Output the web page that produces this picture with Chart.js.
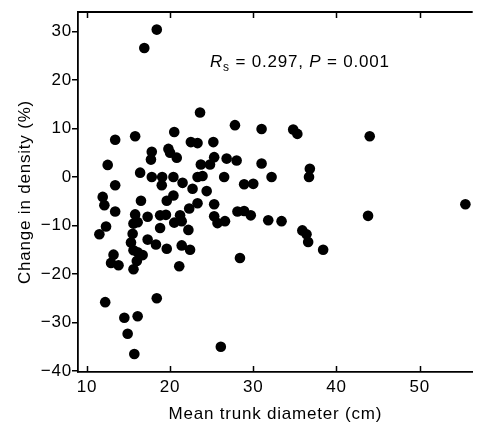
<!DOCTYPE html>
<html>
<head>
<meta charset="utf-8">
<script src="https://cdn.jsdelivr.net/npm/chart.js@4.4.1/dist/chart.umd.min.js"></script>
<style>
  html, body { margin: 0; padding: 0; background: #fff; overflow: hidden; }
  #wrap { width: 478px; height: 426px; position: relative; }
</style>
</head>
<body>
<div id="wrap"><canvas id="c" width="478" height="426"></canvas></div>
<script>
// Mean trunk diameter (cm)
const trunkDiameter = [
  18.4, 16.9, 23.6, 27.8, 31.0, 34.8, 35.3, 44.0, 13.4, 15.8,
  20.5, 22.5, 23.3, 25.2, 17.8, 17.7, 19.8, 20.0, 20.8, 23.7,
  24.8, 25.3, 26.8, 28.0, 31.0, 36.8, 36.7, 32.2, 26.5, 23.3,
  23.9, 12.5, 13.4, 16.4, 17.8, 19.05, 20.4, 19.0, 21.5, 22.7,
  24.4, 28.9, 30.0, 11.9, 12.1, 13.4, 16.5, 15.8, 17.3, 15.6,
  16.1, 15.5, 12.3, 11.5, 15.3, 15.6, 17.3, 18.3, 16.7, 16.1,
  13.2, 12.9, 13.8, 16.0, 15.6, 18.8, 18.8, 19.5, 19.6, 20.5,
  21.2, 21.4, 22.2, 21.4, 22.4, 21.1, 22.3, 23.3, 19.6, 20.4,
  25.3, 25.3, 25.7, 26.6, 28.1, 28.9, 29.7, 31.8, 33.4, 35.9,
  36.4, 36.6, 38.4, 28.4, 43.8, 55.5, 12.2, 18.4, 14.5, 16.1,
  14.9, 15.7, 26.1
];
// Change in density (%)
const densityChange = [
  30.4, 26.6, 13.3, 10.7, 9.9, 9.8, 8.9, 8.4, 7.7, 8.4,
  9.3, 7.2, 7.0, 7.2, 5.2, 3.6, 5.8, 5.0, 4.0, 2.6,
  2.6, 4.1, 3.8, 3.4, 2.8, 1.7, 0.0, 0.0, 0.0, 0.0,
  0.2, 2.5, -1.7, 0.9, 0.0, 0.0, 0.0, -1.7, -1.2, -2.4,
  -2.9, -1.5, -1.4, -4.1, -5.8, -7.1, -4.9, -7.7, -8.2, -9.6,
  -9.3, -11.7, -10.2, -11.8, -13.5, -15.1, -12.9, -13.9, -16.1, -15.5,
  -16.0, -17.7, -18.2, -17.3, -19.0, -10.5, -7.9, -7.8, -14.8, -9.4,
  -7.9, -9.1, -10.9, -14.1, -15.0, -18.4, -6.5, -5.4, -4.9, -3.8,
  -5.6, -8.1, -9.5, -9.1, -7.1, -7.0, -7.9, -8.9, -9.1, -11.0,
  -11.8, -13.4, -15.0, -16.7, -8.0, -5.6, -25.8, -25.0, -29.0, -28.7,
  -32.3, -36.5, -35.0
];
const xTickValues = [10, 20, 30, 40, 50];
const yTickValues = [-40, -30, -20, -10, 0, 10, 20, 30];
const xTitle = 'Mean trunk diameter (cm)';
const yTitle = 'Change in density (%)';

const points = trunkDiameter.map((x, i) => ({ x: x, y: densityChange[i] }));

const FONT = "'Liberation Sans', Arial, Helvetica, sans-serif";
const FS = 17;

const framePlugin = {
  id: 'frame',
  beforeDraw(chart) {
    try { chart.ctx.letterSpacing = '0.8px'; } catch (e) {}
  },
  afterDraw(chart) {
    const { ctx, chartArea: a, scales } = chart;
    const xs = scales.x;
    ctx.save();
    ctx.strokeStyle = '#000';
    ctx.lineWidth = 1.8;
    // top border
    ctx.beginPath();
    ctx.moveTo(a.left, a.top);
    ctx.lineTo(a.right, a.top);
    ctx.stroke();
    // inward ticks on bottom and top
    ctx.lineWidth = 1.5;
    xTickValues.forEach(v => {
      const px = Math.round(xs.getPixelForValue(v)) + 0.5;
      ctx.beginPath();
      ctx.moveTo(px, a.bottom);
      ctx.lineTo(px, a.bottom - 6);
      ctx.moveTo(px, a.top);
      ctx.lineTo(px, a.top + 6);
      ctx.stroke();
    });
    // annotation
    ctx.fillStyle = '#000';
    ctx.textBaseline = 'alphabetic';
    ctx.textAlign = 'left';
    let x = 210, y = 66.5;
    const parts = [
      { t: 'R', f: 'italic ' + FS + 'px ' + FONT, dy: 0 },
      { t: 's', f: '12px ' + FONT, dy: 4 },
      { t: ' = 0.297, ', f: FS + 'px ' + FONT, dy: 0 },
      { t: 'P', f: 'italic ' + FS + 'px ' + FONT, dy: 0 },
      { t: ' = 0.001', f: FS + 'px ' + FONT, dy: 0 }
    ];
    parts.forEach(p => {
      ctx.font = p.f;
      ctx.fillText(p.t, x, y + p.dy);
      x += ctx.measureText(p.t).width;
    });
    ctx.restore();
  }
};

new Chart(document.getElementById('c'), {
  type: 'scatter',
  data: {
    datasets: [{
      data: points,
      backgroundColor: '#000',
      borderColor: '#000',
      borderWidth: 0,
      pointRadius: 5.3,
      pointHoverRadius: 5.3
    }]
  },
  options: {
    responsive: false,
    animation: false,
    events: [],
    layout: { padding: { top: 12, right: 0, bottom: 0, left: 0 } },
    plugins: { legend: { display: false }, tooltip: { enabled: false } },
    scales: {
      x: {
        type: 'linear',
        min: 8.93,
        max: 56.38,
        afterFit(s) { s.height = 54; },
        afterBuildTicks(s) { s.ticks = xTickValues.map(v => ({ value: v })); },
        grid: { display: false, drawTicks: false, tickLength: 0 },
        border: { display: true, color: '#000', width: 1.8 },
        ticks: {
          color: '#000',
          padding: 5,
          maxRotation: 0,
          autoSkip: false,
          font: { family: FONT, size: FS },
          callback: v => String(v)
        },
        title: {
          display: true,
          text: xTitle,
          color: '#000',
          font: { family: FONT, size: FS },
          padding: { top: 0, bottom: 1 }
        }
      },
      y: {
        type: 'linear',
        min: -40.2,
        max: 34.03,
        afterFit(s) { s.width = 78; },
        afterBuildTicks(s) { s.ticks = yTickValues.map(v => ({ value: v })); },
        grid: { display: true, drawOnChartArea: false, drawTicks: true, tickLength: 6, color: '#000', lineWidth: 1.5 },
        border: { display: true, color: '#000', width: 1.8 },
        ticks: {
          color: '#000',
          padding: 0,
          autoSkip: false,
          font: { family: FONT, size: FS },
          callback: v => String(v).replace('-', '\u2212')
        },
        title: {
          display: true,
          text: yTitle,
          color: '#000',
          font: { family: FONT, size: FS },
          padding: { top: 15, bottom: 0 }
        }
      }
    }
  },
  plugins: [framePlugin]
});
</script>
</body>
</html>
